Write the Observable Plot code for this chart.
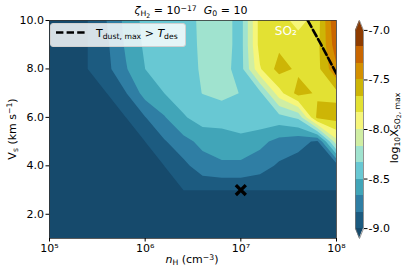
<!DOCTYPE html>
<html><head><meta charset="utf-8">
<script src="https://cdn.jsdelivr.net/npm/d3@7"></script>
<script src="https://cdn.jsdelivr.net/npm/@observablehq/plot@0.6"></script>
<style>
body{margin:0;background:#fff;font-family:"DejaVu Sans",sans-serif;}
#wrap{position:relative;width:407px;height:273px;overflow:hidden;background:#fff;}
#wrap svg{position:absolute;top:0;}
.lbl{position:absolute;font-size:11px;color:#000;white-space:nowrap;line-height:11px;}
.lbl sub{font-size:70%;vertical-align:-0.3em;line-height:0;}
.lbl sup{font-size:70%;vertical-align:0.45em;line-height:0;}
.lbl sub sub{font-size:80%;vertical-align:-0.25em;}
.rot{transform:translate(-50%,-50%) rotate(-90deg);}
#legend{position:absolute;left:50px;top:23px;width:136px;height:24px;background:rgba(255,255,255,0.82);border:1px solid #d0d0d0;border-radius:3px;box-sizing:border-box;}
</style></head><body><div id="wrap"></div>
<script>
// ---- data ----
const logNH = [5.0, 5.2, 5.4, 5.6, 5.8, 6.0, 6.2, 6.4, 6.6, 6.8, 7.0, 7.2, 7.4, 7.6, 7.8, 8.0]; // log10 n_H
const velocity = [1, 2, 3, 4, 5, 6, 7, 8, 9, 10]; // V_s km/s
const U = -14; // below colour range
const row_V1  = [U, U, U, U, U, U, U, U, U, U, U, U, U, U, U, U];
const row_V2  = [U, U, U, U, U, U, U, U, U, U, U, U, U, U, U, U];
const row_V3  = [U, U, U, U, U, U, U, -8.97, -8.97, -8.97, -8.97, -8.97, -8.97, -8.97, -8.97, -8.97];
const row_V4  = [U, U, U, U, U, U, -8.98, -8.88, -8.74, -8.70, -8.70, -8.76, -8.86, -8.90, -8.92, -8.92];
const row_V5  = [U, U, U, U, U, -8.98, -8.85, -8.72, -8.62, -8.56, -8.56, -8.62, -8.72, -8.78, -8.86, -8.05];
const row_V6  = [U, U, U, U, -8.98, -8.84, -8.68, -8.52, -8.42, -8.45, -8.38, -8.38, -8.40, -8.30, -7.62, -7.60];
const row_V7  = [U, U, U, -8.98, -8.84, -8.60, -8.50, -8.40, -8.33, -8.28, -8.34, -8.38, -7.90, -7.60, -7.69, -7.71];
const row_V8  = [U, U, -8.98, -8.88, -8.68, -8.50, -8.41, -8.38, -8.32, -8.27, -8.40, -7.85, -7.60, -7.70, -7.72, -7.36];
const row_V9  = [U, U, -8.98, -8.86, -8.64, -8.47, -8.41, -8.39, -8.31, -8.25, -8.40, -7.76, -7.70, -7.74, -7.72, -7.22];
const row_V10 = [U, U, -8.98, -8.83, -8.62, -8.45, -8.42, -8.40, -8.30, -8.25, -8.40, -7.76, -7.75, -7.90, -7.75, -7.15];

const levels = [-9.0, -8.8333, -8.6667, -8.5, -8.3333, -8.1667, -8.0, -7.8333, -7.6667, -7.5, -7.3333, -7.1667, -7.0];
const colors = ["#164a6c", "#1c5b80", "#2f7ea4", "#41a5b8", "#68c8d3", "#a0e3cf", "#d0eea3", "#f6f67a",
                "#e3e133", "#cdb506", "#d49000", "#c96600", "#8f3c00", "#8a3800"]; // under, 12 bands, over
const colorTicks = [-9.0, -8.5, -8.0, -7.5, -7.0];
const xTicks = [5, 6, 7, 8];
const yTicks = [2, 4, 6, 8, 10];

// T_dust,max > T_des boundary
const desLogNH = [7.70, 7.84, 8.0];
const desV = [10, 9, 7.8];
// marker
const markLogNH = [7.0];
const markV = [3.0];

// ---- build ----
const grid = [...row_V1, ...row_V2, ...row_V3, ...row_V4, ...row_V5, ...row_V6, ...row_V7, ...row_V8, ...row_V9, ...row_V10];
const dL = logNH[1] - logNH[0], dV = velocity[1] - velocity[0];
const supMap = {"0":"⁰","1":"¹","2":"²","3":"³","4":"⁴","5":"⁵","6":"⁶","7":"⁷","8":"⁸","9":"⁹"};
const font = {fontFamily: "DejaVu Sans", fontSize: "11px", background: "transparent", overflow: "visible", color: "#000"};

const main = Plot.plot({
  width: 345, height: 273,
  marginLeft: 49, marginRight: 9, marginTop: 20, marginBottom: 35,
  style: font,
  x: {domain: [5, 8]},
  y: {domain: [1, 10]},
  color: {type: "threshold", domain: levels, range: colors},
  marks: [
    Plot.contour(grid, {
      value: d => d, width: logNH.length, height: velocity.length,
      x1: logNH[0] - dL / 2, x2: logNH[logNH.length - 1] + dL / 2,
      y1: velocity[0] - dV / 2, y2: velocity[velocity.length - 1] + dV / 2,
      thresholds: [U - 1, ...levels], fill: "value", clip: true
    }),
    Plot.line(desLogNH.map((x, i) => ({x, y: desV[i]})), {x: "x", y: "y", stroke: "black", strokeWidth: 2.6, strokeDasharray: "7.4,3.2", clip: true}),
    Plot.dot(markLogNH.map((x, i) => ({x, y: markV[i]})), {x: "x", y: "y", symbol: "times", r: 4.6, stroke: "black", strokeWidth: 3.3}),
    Plot.text([{x: 7.47, y: 9.55, t: "SO₂"}], {x: "x", y: "y", text: "t", fill: "white", fontSize: 12}),
    Plot.frame({stroke: "#333", strokeWidth: 0.8}),
    Plot.axisX({ticks: xTicks, tickSize: 3.5, tickPadding: 2, label: null,
      tickFormat: d => "10" + String(d).split("").map(c => supMap[c]).join("")}),
    Plot.axisY({ticks: yTicks, tickSize: 3.5, tickPadding: 2, label: null, tickFormat: d => d.toFixed(1)})
  ]
});

// colorbar
const lo = levels[0], hi = levels[levels.length - 1], ext = (hi - lo) * 0.05;
const bands = levels.slice(0, -1).map((l, i) => ({lo: l, hi: levels[i + 1], color: colors[i + 1]}));
const tris = [
  {x: 0, base: lo, tip: lo, c: colors[0]}, {x: 0.5, base: lo, tip: lo - ext, c: colors[0]}, {x: 1, base: lo, tip: lo, c: colors[0]},
  {x: 0, base: hi, tip: hi, c: colors[colors.length - 1]}, {x: 0.5, base: hi, tip: hi + ext, c: colors[colors.length - 1]}, {x: 1, base: hi, tip: hi, c: colors[colors.length - 1]}
];
const outline = [{x: 0, y: lo}, {x: 0.5, y: lo - ext}, {x: 1, y: lo}, {x: 1, y: hi}, {x: 0.5, y: hi + ext}, {x: 0, y: hi}, {x: 0, y: lo}];
const cbar = Plot.plot({
  width: 62, height: 273, marginLeft: 10, marginRight: 44, marginTop: 20, marginBottom: 35,
  style: font,
  x: {domain: [0, 1], axis: null},
  y: {domain: [lo - ext, hi + ext], axis: null},
  marks: [
    Plot.rect(bands, {x1: 0, x2: 1, y1: "lo", y2: "hi", fill: "color", shapeRendering: "crispEdges"}),
    Plot.areaY(tris, {x: "x", y1: "base", y2: "tip", fill: "c", z: "c"}),
    Plot.line(outline, {x: "x", y: "y", stroke: "#777", strokeWidth: 0.8}),
    Plot.axisY({anchor: "right", ticks: colorTicks, tickSize: 3.5, tickPadding: 1.5, label: null, tickFormat: d => d.toFixed(1)})
  ]
});

const wrap = document.getElementById("wrap");
main.style.left = "0px";
cbar.style.left = "345px";
wrap.appendChild(main);
wrap.appendChild(cbar);

function addLabel(html, css, cls) {
  const d = document.createElement("div");
  d.className = "lbl" + (cls ? " " + cls : "");
  d.innerHTML = html;
  Object.assign(d.style, css);
  wrap.appendChild(d);
  return d;
}
addLabel('<i>ζ</i><sub>H<sub>2</sub></sub> = 10<sup>−17</sup>&nbsp; <i>G</i><sub>0</sub> = 10', {left: "191px", top: "5px", transform: "translateX(-50%)"});
addLabel('<i>n</i><sub>H</sub> (cm<sup>−3</sup>)', {left: "192px", top: "254px", transform: "translateX(-50%)"});
addLabel('V<sub>s</sub> (km s<sup>−1</sup>)', {left: "12px", top: "129px"}, "rot");
addLabel('log<sub>10</sub>X<sub>SO<sub>2</sub>, max</sub>', {left: "394px", top: "128px"}, "rot");

const leg = document.createElement("div");
leg.id = "legend";
leg.innerHTML = '<svg width="40" height="22" style="position:absolute;left:3px;top:0px"><line x1="2" y1="8.5" x2="32" y2="8.5" stroke="black" stroke-width="2.6" stroke-dasharray="7.4,3.2"/></svg>' +
  '<div class="lbl" style="left:45px;top:4px;">T<sub>dust, max</sub> &gt; <i>T</i><sub>des</sub></div>';
wrap.appendChild(leg);
</script></body></html>
